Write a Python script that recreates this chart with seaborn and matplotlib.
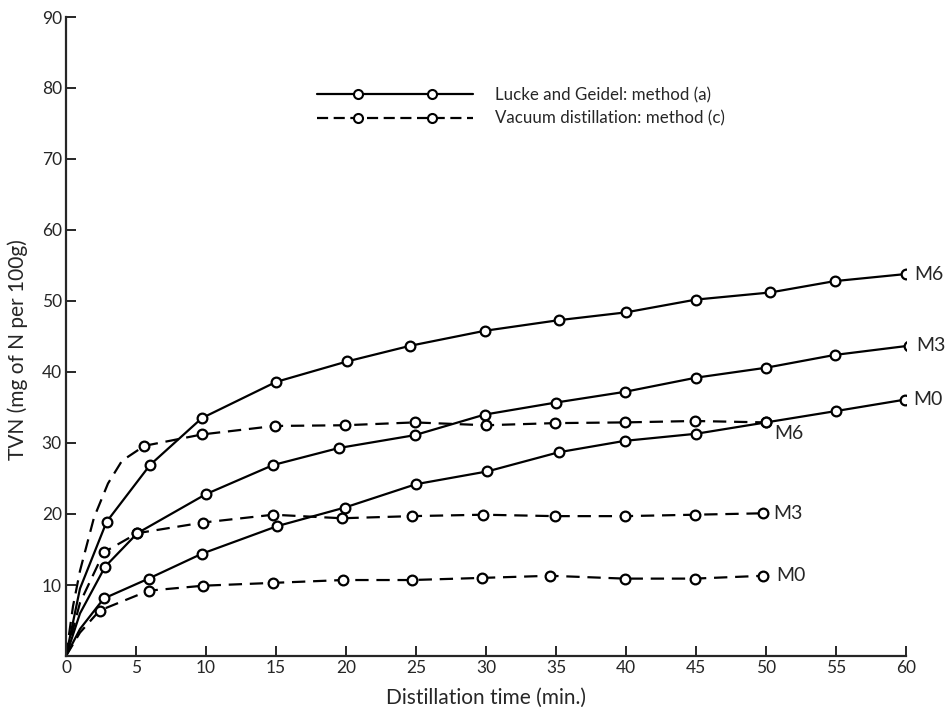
import matplotlib
matplotlib.use("Agg")
import matplotlib.pyplot as plt
import seaborn as sns
from matplotlib.lines import Line2D
from matplotlib.legend_handler import HandlerLine2D, HandlerTuple

# Lucke and Geidel, method (a) - solid lines
# the first n_lead points of each series are read off the curve near the
# origin and carry no marker
lg_m6_t = [0, 1.0, 2.9, 6.0, 9.7, 15.0, 20.1, 24.6, 29.9, 35.2, 40.0, 45.0, 50.3, 54.9, 60.0]
lg_m6_v = [0, 9.5, 18.9, 26.9, 33.5, 38.6, 41.5, 43.7, 45.8, 47.3, 48.4, 50.2, 51.2, 52.8, 53.8]
lg_m3_t = [0, 1.0, 2.8, 5.1, 10.0, 14.8, 19.5, 24.9, 29.9, 35.0, 39.9, 45.0, 50.0, 54.9, 60.2]
lg_m3_v = [0, 6.0, 12.6, 17.3, 22.8, 26.9, 29.3, 31.1, 34.0, 35.7, 37.2, 39.2, 40.6, 42.4, 43.7]
lg_m0_t = [0, 1.0, 2.7, 5.9, 9.7, 15.1, 19.9, 25.0, 30.1, 35.2, 39.9, 45.0, 50.0, 55.0, 59.9]
lg_m0_v = [0, 3.8, 8.1, 10.9, 14.4, 18.3, 20.9, 24.2, 26.0, 28.7, 30.3, 31.3, 32.9, 34.5, 36.1]

# Vacuum distillation, method (c) - dashed lines
vd_m6_t = [0, 0.5, 1.0, 2.0, 3.0, 4.0, 5.6, 9.7, 14.9, 19.9, 24.9, 30.0, 34.9, 39.9, 44.9, 50.0]
vd_m6_v = [0, 7.0, 12.0, 19.5, 24.3, 27.5, 29.6, 31.2, 32.4, 32.5, 32.9, 32.5, 32.8, 32.9, 33.1, 32.9]
vd_m3_t = [0, 1.0, 2.7, 5.1, 9.8, 14.8, 19.7, 24.7, 29.8, 34.9, 39.9, 44.9, 49.8]
vd_m3_v = [0, 7.5, 14.6, 17.3, 18.8, 19.9, 19.4, 19.7, 19.9, 19.7, 19.7, 19.9, 20.1]
vd_m0_t = [0, 1.0, 2.4, 5.9, 9.8, 14.8, 19.8, 24.7, 29.7, 34.6, 39.9, 44.9, 49.8]
vd_m0_v = [0, 3.3, 6.4, 9.2, 9.9, 10.3, 10.7, 10.7, 11.0, 11.3, 10.9, 10.9, 11.3]

series = [
    # t, v, unmarked leading points, dashed, label, label offset (dx, dy)
    (lg_m6_t, lg_m6_v, 2, False, "M6", (0.6, 0.0)),
    (lg_m3_t, lg_m3_v, 2, False, "M3", (0.5, 0.0)),
    (lg_m0_t, lg_m0_v, 2, False, "M0", (0.6, 0.0)),
    (vd_m6_t, vd_m6_v, 6, True, "M6", (0.6, -1.6)),
    (vd_m3_t, vd_m3_v, 2, True, "M3", (0.7, 0.0)),
    (vd_m0_t, vd_m0_v, 2, True, "M0", (0.9, 0.0)),
]

legend_labels = ["Lucke and Geidel: method (a)", "Vacuum distillation: method (c)"]

sns.set_style("ticks")
plt.rcParams["font.family"] = ["Lato", "DejaVu Sans"]

fig = plt.figure(figsize=(9.47, 7.07), dpi=100)
ax = fig.add_axes([66 / 947, 1 - 656 / 707, 840 / 947, 639 / 707])

dash = (0, (6, 3.5))
mk = dict(marker="o", markersize=7, markerfacecolor="w", markeredgecolor="k",
          markeredgewidth=1.6, color="k", linewidth=1.6)

for t, v, lead, dashed, lab, (dx, dy) in series:
    sns.lineplot(x=t, y=v, ax=ax, sort=False, markevery=slice(lead, None),
                 linestyle=dash if dashed else "-", **mk)
    ax.text(t[-1] + dx, v[-1] + dy, lab, fontsize=14, ha="left", va="center",
            clip_on=False)

ax.set_xlim(0, 60)
ax.set_ylim(0, 90)
ax.set_xticks(range(0, 61, 5))
ax.set_yticks(range(0, 91, 10))
ax.set_yticklabels([""] + [str(y) for y in range(10, 91, 10)])
ax.tick_params(direction="in", length=7, width=1.4, labelsize=12.5, pad=3)
for s in ["left", "bottom"]:
    ax.spines[s].set_linewidth(1.6)
sns.despine(ax=ax)

ax.set_xlabel("Distillation time (min.)", fontsize=15)
ax.set_ylabel("TVN (mg of N per 100g)", fontsize=15)
ax.xaxis.set_label_coords(0.5, -0.05)
ax.yaxis.set_label_coords(-0.045, 0.48)

# legend: line with two open circles
s_line = Line2D([], [], color="k", linewidth=1.6)
s_pts = Line2D([], [], linestyle="none", marker="o", markersize=6.5,
               markerfacecolor="w", markeredgecolor="k", markeredgewidth=1.5)
d_line = Line2D([], [], color="k", linewidth=1.6, linestyle=(0, (5, 2.5)))
d_pts = Line2D([], [], linestyle="none", marker="o", markersize=6.5,
               markerfacecolor="w", markeredgecolor="k", markeredgewidth=1.5)
hmap = {tuple: HandlerTuple(),
        s_line: HandlerLine2D(numpoints=1), d_line: HandlerLine2D(numpoints=1),
        s_pts: HandlerLine2D(numpoints=2, marker_pad=2.4),
        d_pts: HandlerLine2D(numpoints=2, marker_pad=2.4)}
ax.legend([(s_line, s_pts), (d_line, d_pts)], legend_labels, handler_map=hmap,
          loc="upper left", bbox_to_anchor=(317 / 947, 1 - 87 / 707),
          bbox_transform=fig.transFigure, frameon=False, fontsize=12.2,
          handlelength=9.2, handletextpad=1.3, labelspacing=0.45,
          borderpad=0, borderaxespad=0)

fig.savefig("out.png", dpi=100)
